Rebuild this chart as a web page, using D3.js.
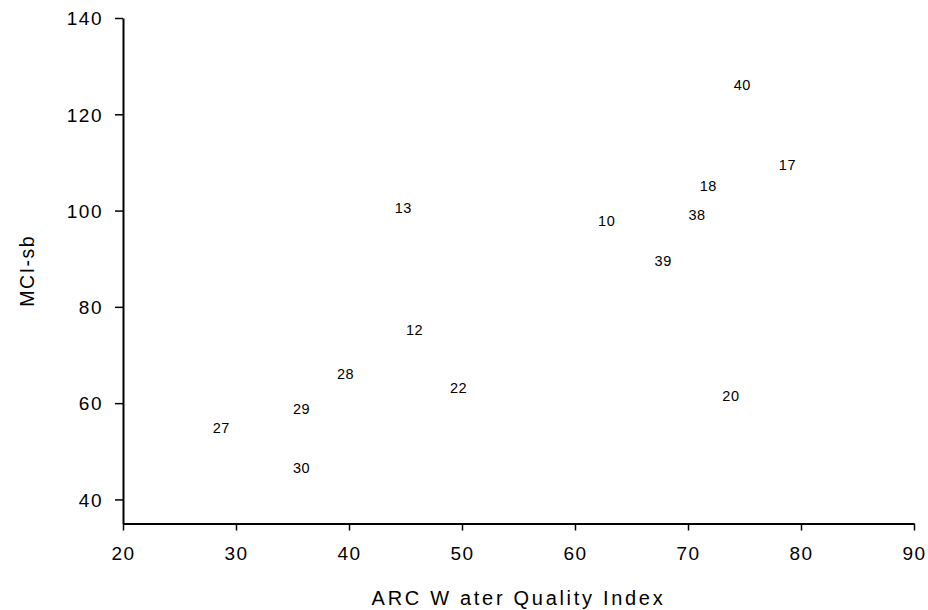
<!DOCTYPE html>
<html>
<head>
<meta charset="utf-8">
<script src="https://cdn.jsdelivr.net/npm/d3@7"></script>
<style>
  body { margin: 0; background: #fff; }
  text { font-family: Arial, "Liberation Sans", sans-serif; fill: #000; }
</style>
</head>
<body>
<div id="chart"></div>
<script>
// site numbers and their values
const sites = ['40', '17', '18', '38', '10', '39', '13', '12', '28', '22', '29', '27', '30', '20'];
const wqi   = [74.8, 78.8, 71.8, 70.8, 62.8, 67.8, 44.8, 45.8, 39.7, 49.7, 35.8, 28.7, 35.8, 73.8];
const mci   = [126.0, 109.4, 105.0, 99.0, 97.8, 89.3, 100.3, 75.1, 65.9, 63.0, 58.6, 54.6, 46.4, 61.4];

const xTicks = [20, 30, 40, 50, 60, 70, 80, 90];
const yTicks = [40, 60, 80, 100, 120, 140];

const createGraph = function createGraph() {
    const width = 928;
    const height = 610;
    const margin = {top: 18, right: 14, bottom: 86.5, left: 123};

    const x = d3.scaleLinear()
        .domain([20, 90])
        .range([margin.left, width - margin.right]);
    const y = d3.scaleLinear()
        .domain([35, 140])
        .range([height - margin.bottom, margin.top]);

    const svg = d3.select('#chart').append('svg')
        .attr('width', width)
        .attr('height', height);

    const xAxis = svg.append('g')
        .attr('class', 'axis axis--x')
        .attr('transform', 'translate(0,' + y(35) + ')')
        .call(d3.axisBottom(x).tickValues(xTicks).tickSize(7).tickSizeOuter(0).tickPadding(16));

    const yAxis = svg.append('g')
        .attr('class', 'axis axis--y')
        .attr('transform', 'translate(' + x(20) + ',0)')
        .call(d3.axisLeft(y).tickValues(yTicks).tickSize(8).tickSizeOuter(0).tickPadding(12));

    [xAxis, yAxis].forEach((a) => {
        a.select('.domain').attr('stroke', '#000').attr('stroke-width', 2);
        a.selectAll('.tick line').attr('stroke', '#000').attr('stroke-width', 1.5);
        a.selectAll('.tick text')
            .attr('fill', '#000')
            .style('font-size', '19px')
            .style('letter-spacing', '1.5px');
    });
    yAxis.selectAll('.tick text').attr('dy', '0.36em');

    // axis titles
    svg.append('text')
        .attr('x', (x(20) + x(90)) / 2)
        .attr('y', 605)
        .attr('text-anchor', 'middle')
        .style('font-size', '20px')
        .style('letter-spacing', '2.7px')
        .text('ARC W ater Quality Index');

    svg.append('text')
        .attr('transform', 'translate(34,' + (y(35) + y(140)) / 2 + ') rotate(-90)')
        .attr('text-anchor', 'middle')
        .style('font-size', '19.5px')
        .style('letter-spacing', '1.5px')
        .text('MCI-sb');

    // site labels, drawn at each data point
    svg.append('g')
        .attr('class', 'points')
        .selectAll('text')
        .data(sites.map((s, i) => { return {name: s, x: wqi[i], y: mci[i]} }))
        .enter()
    .append('text')
        .attr('x', (d) => { return x(d.x) })
        .attr('y', (d) => { return y(d.y) })
        .attr('dy', '0.3em')
        .attr('text-anchor', 'middle')
        .style('font-size', '14.5px')
        .style('letter-spacing', '0.5px')
        .text((d) => { return d.name });
};

createGraph();
</script>
</body>
</html>
